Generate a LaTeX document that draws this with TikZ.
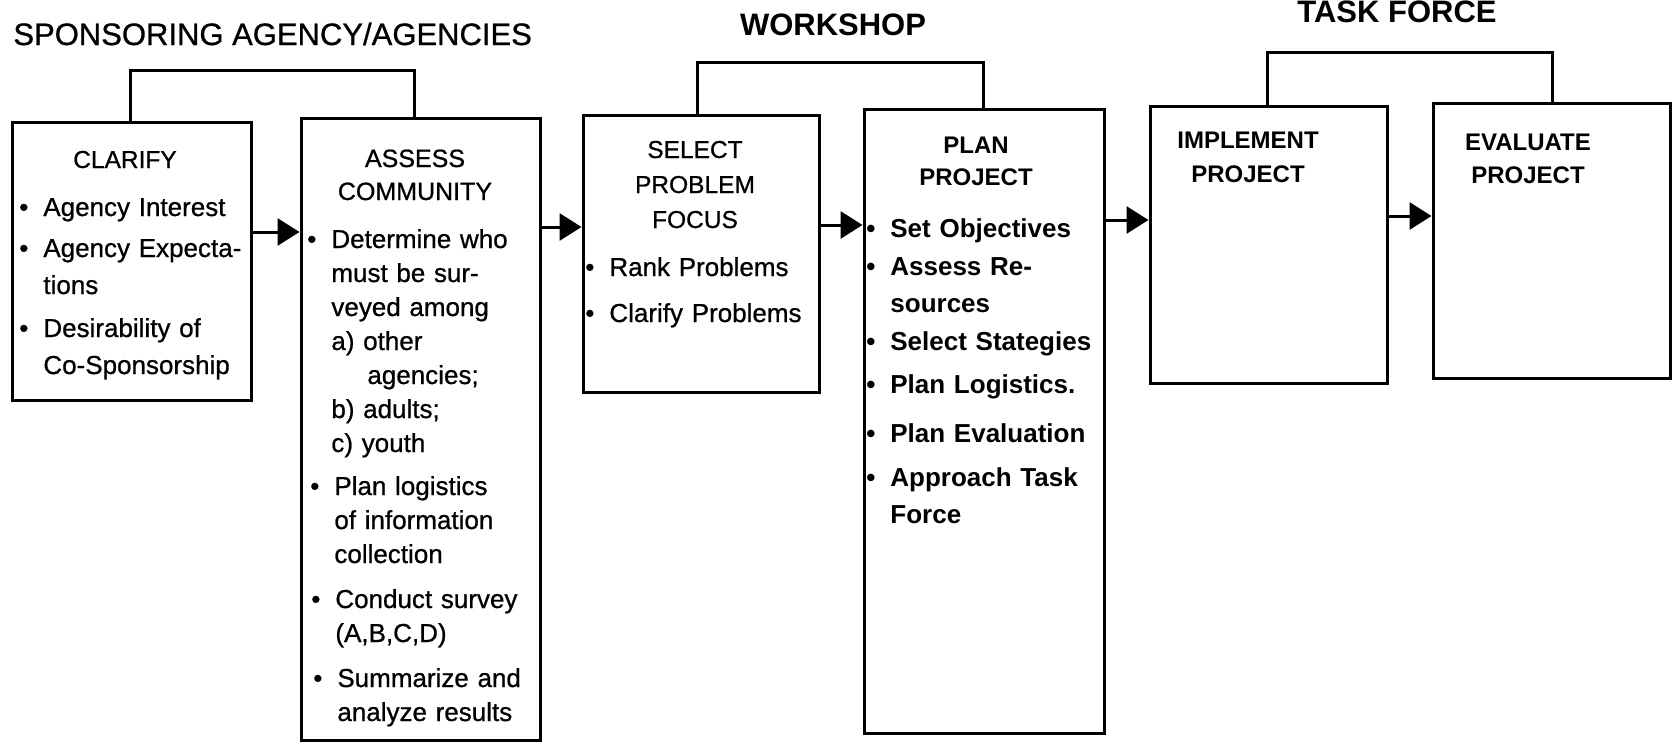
\documentclass[tikz,border=0pt]{standalone}
\usepackage{fontspec}
\setmainfont{Liberation Sans}
\newfontfamily\medf{Liberation Sans}[FakeBold=0.8]
\usetikzlibrary{arrows.meta,fit}
\begin{document}
\begin{tikzpicture}[x=0.5pt,y=-0.5pt,
  box/.style={draw, line width=1.5pt, inner sep=0pt},
  link/.style={line width=1.5pt},
  arr/.style={line width=1.5pt, -{Triangle[length=11pt,width=13.5pt]}},
  ttl/.style={inner sep=0pt, font=\fontsize{15.5pt}{18pt}\selectfont\medf},
  ttlb/.style={inner sep=0pt, font=\fontsize{15.5pt}{18pt}\selectfont\bfseries},
  head/.style={inner sep=0pt, text width=110pt, align=center, anchor=base},
  lst/.style={inner sep=0pt, text width=118pt, align=left, anchor=base west},
]
\newcommand{\bul}{\leavevmode\llap{\textbullet\hspace{7.5pt}}}
\fill[white] (0,0) rectangle (1675,744);
\useasboundingbox (0,0) rectangle (1675,744);

% titles
\node[ttl, anchor=base west] (tsp) at (13,45) {SPONSORING AGENCY/AGENCIES};
\node[ttlb, anchor=base] (tws) at (833,35) {WORKSHOP};
\node[ttlb, anchor=base] (ttf) at (1397,22) {TASK FORCE};

% boxes
\node[box, fit={(12,122) (251,400)}] (clar) {};
\node[box, fit={(301,118) (540,740)}] (assess) {};
\node[box, fit={(583,115) (819,392)}] (select) {};
\node[box, fit={(864,109) (1104,733)}] (plan) {};
\node[box, fit={(1150,106) (1387,383)}] (impl) {};
\node[box, fit={(1433,103) (1670,378)}] (eval) {};

% brackets
\coordinate (b1l) at (130,70);  \coordinate (b1r) at (414,70);
\coordinate (b2l) at (697,62);  \coordinate (b2r) at (983,62);
\coordinate (b3l) at (1267,52); \coordinate (b3r) at (1552,52);
\draw[link] (b1l |- clar.north) -- (b1l) -- (b1r) -- (b1r |- assess.north);
\draw[link] (b2l |- select.north) -- (b2l) -- (b2r) -- (b2r |- plan.north);
\draw[link] (b3l |- impl.north) -- (b3l) -- (b3r) -- (b3r |- eval.north);

% arrows
\coordinate (y1) at (0,232);
\coordinate (y2) at (0,227);
\coordinate (y3) at (0,225);
\coordinate (y4) at (0,220);
\coordinate (y5) at (0,216);
\draw[arr] (clar.east |- y1) -- (assess.west |- y1);
\draw[arr] (assess.east |- y2) -- (select.west |- y2);
\draw[arr] (select.east |- y3) -- (plan.west |- y3);
\draw[arr] (plan.east |- y4) -- (impl.west |- y4);
\draw[arr] (impl.east |- y5) -- (eval.west |- y5);

% CLARIFY
\node[head, font=\fontsize{12.25pt}{16.5pt}\selectfont\medf] (hclar) at (125,168) {CLARIFY};
\begin{scope}[lst/.append style={font=\fontsize{13pt}{18.5pt}\selectfont\medf}]
\node[lst] (c1) at (43,216) {\bul Agency Interest};
\node[lst] (c2) at (43,257) {\bul Agency Expecta-\\tions};
\node[lst] (c3) at (43,337) {\bul Desirability of\\Co-Sponsorship};
\end{scope}

% ASSESS COMMUNITY
\node[head, font=\fontsize{12.5pt}{16.5pt}\selectfont\medf] (hass) at (415,167) {ASSESS\\COMMUNITY};
\begin{scope}[lst/.append style={font=\fontsize{13pt}{17pt}\selectfont\medf}]
\node[lst] (a1) at (331,248) {\bul Determine who\\must be sur-\\veyed among\\a) other\\\hspace*{18pt}agencies;\\b) adults;\\c) youth};
\node[lst] (a2) at (334,495) {\bul Plan logistics\\of information\\collection};
\node[lst] (a3) at (335,608) {\bul Conduct survey\\(A,B,C,D)};
\node[lst] (a4) at (337,687) {\bul Summarize and\\analyze results};
\end{scope}

% SELECT PROBLEM FOCUS
\node[head, font=\fontsize{12.25pt}{17.5pt}\selectfont\medf] (hsel) at (695,158) {SELECT\\PROBLEM\\FOCUS};
\begin{scope}[lst/.append style={font=\fontsize{13pt}{18.5pt}\selectfont\medf}]
\node[lst] (s1) at (609,276) {\bul Rank Problems};
\node[lst] (s2) at (609,322) {\bul Clarify Problems};
\end{scope}

% PLAN PROJECT
\node[head, font=\fontsize{12pt}{16pt}\selectfont\bfseries] (hplan) at (976,153) {PLAN\\PROJECT};
\begin{scope}[lst/.append style={font=\fontsize{13pt}{18.5pt}\selectfont\bfseries}]
\node[lst] (p1) at (890,237) {\bul Set Objectives};
\node[lst] (p2) at (890,275) {\bul Assess Re-\\sources};
\node[lst] (p3) at (890,350) {\bul Select Stategies};
\node[lst] (p4) at (890,393) {\bul Plan Logistics.};
\node[lst] (p5) at (890,442) {\bul Plan Evaluation};
\node[lst] (p6) at (890,486) {\bul Approach Task\\Force};
\end{scope}

% IMPLEMENT / EVALUATE
\node[head, font=\fontsize{12pt}{17pt}\selectfont\bfseries] (himp) at (1248,148) {IMPLEMENT\\PROJECT};
\node[head, font=\fontsize{12pt}{16.5pt}\selectfont\bfseries] (heva) at (1528,150) {EVALUATE\\PROJECT};
\end{tikzpicture}
\end{document}
